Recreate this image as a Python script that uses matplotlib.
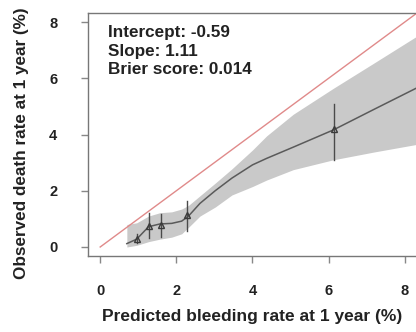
import matplotlib
matplotlib.use("Agg")
import matplotlib.pyplot as plt

# ---- data ----
ideal_x = [0, 8.32]
ideal_y = [0, 8.32]

curve_x = [0.70, 0.96, 1.27, 1.57, 1.88, 2.14, 2.32, 2.62, 3.02, 3.46, 4.00, 4.37, 5.07, 6.12, 7.20, 8.32]
curve_y = [0.12, 0.28, 0.72, 0.82, 0.84, 0.92, 1.10, 1.55, 2.00, 2.45, 2.92, 3.15, 3.55, 4.16, 4.90, 5.66]
upper_y = [0.80, 0.86, 1.10, 1.22, 1.25, 1.35, 1.48, 1.82, 2.27, 2.78, 3.45, 3.95, 4.72, 5.64, 6.55, 7.50]
lower_y = [0.00, 0.06, 0.19, 0.28, 0.35, 0.47, 0.70, 1.10, 1.42, 1.85, 2.15, 2.38, 2.75, 3.10, 3.38, 3.65]

pts_x = [0.96, 1.27, 1.59, 2.28, 6.14]
pts_y = [0.28, 0.74, 0.78, 1.15, 4.20]
pts_lo = [0.14, 0.31, 0.36, 0.58, 3.10]
pts_hi = [0.45, 1.20, 1.16, 1.65, 5.10]

xticks = [0, 2, 4, 6, 8]
yticks = [0, 2, 4, 6, 8]

stats = ["Intercept: -0.59", "Slope: 1.11", "Brier score: 0.014"]
xlabel = "Predicted bleeding rate at 1 year (%)"
ylabel = "Observed death rate at 1 year (%)"

# ---- plot ----
plt.rcParams['font.family'] = ['Liberation Sans', 'DejaVu Sans']
plt.rcParams['font.weight'] = 'bold'

fig = plt.figure(figsize=(4.16, 3.32), dpi=100)
W, H = 416, 332
left, right, top, bottom = 88, 417, 13, 256
ax = fig.add_axes([left / W, 1 - bottom / H, (right - left) / W, (bottom - top) / H])
ax.set_xlim(-0.32, 8.32)
ax.set_ylim(-0.32, 8.32)

ax.fill_between(curve_x, lower_y, upper_y, color='#c9c9c9', lw=0, zorder=1)
ax.plot(ideal_x, ideal_y, color='#e08a8a', lw=1.0, zorder=2)
ax.plot(curve_x, curve_y, color='#5a5a5a', lw=1.1, zorder=3)
for x, lo, hi in zip(pts_x, pts_lo, pts_hi):
    ax.plot([x, x], [lo, hi], color='#4a4a4a', lw=1.0, zorder=4)
ax.plot(pts_x, pts_y, linestyle='none', marker='^', markersize=5,
        markerfacecolor='none', markeredgecolor='#3a3a3a', markeredgewidth=1.0, zorder=5)

for s in ax.spines.values():
    s.set_color('#777777')
    s.set_linewidth(1.0)

ax.set_xticks(xticks)
ax.set_yticks(yticks)
ax.set_xticklabels([str(t) for t in xticks], fontsize=10.5, fontweight='bold', color='#222222')
ax.set_yticklabels([str(t) for t in yticks], fontsize=10.5, fontweight='bold', color='#222222')
ax.tick_params(axis='x', length=5, width=1, color='#888888', pad=15)
ax.tick_params(axis='y', length=5, width=1, color='#888888', pad=17)

ax.set_xlabel(xlabel, fontsize=12.5, fontweight='bold', color='#222222', labelpad=8)
ax.set_ylabel(ylabel, fontsize=12.3, fontweight='bold', color='#222222')
ax.yaxis.set_label_coords(-0.18, 0.465)

ax.text(0.06, 0.95, "\n".join(stats), transform=ax.transAxes, ha='left', va='top',
        fontsize=12.3, fontweight='bold', color='#222222', linespacing=1.3)

fig.savefig("out.png", dpi=100)
